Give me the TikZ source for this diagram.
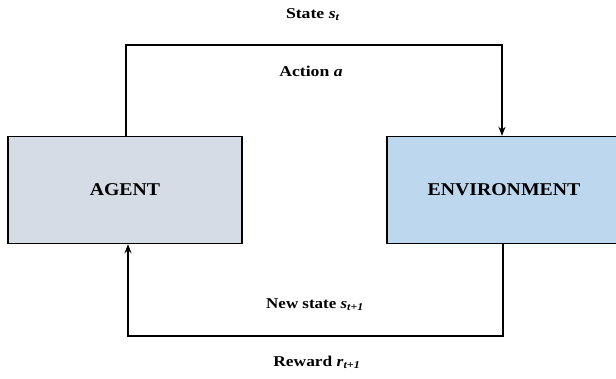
\documentclass[tikz,border=0pt]{standalone}
\usepackage{fontspec}
\setmainfont{Liberation Serif}
\usetikzlibrary{arrows.meta}
\definecolor{agentfill}{HTML}{D6DCE5}
\definecolor{envfill}{HTML}{BDD7EE}
\tikzset{
  blockbox/.style={draw=black, line width=1.4pt, minimum width=234pt, minimum height=107pt, inner sep=0pt,
    font=\fontsize{18}{21}\selectfont\bfseries},
  flow/.style={line width=1.3pt, -{Stealth[length=9pt,width=7pt]}},
  lbl/.style={font=\fontsize{15}{18}\selectfont\bfseries, inner sep=0pt}
}
\newcommand{\wide}[2][1.18]{\scalebox{#1}[1]{#2}}
\begin{document}
\begin{tikzpicture}[x=1pt,y=-1pt]
  \useasboundingbox (0,0) rectangle (616,378);
  \node[blockbox, fill=agentfill] (agent) at (125,190) {\wide[1.1]{AGENT}};
  \node[blockbox, fill=envfill] (env) at (504,190) {\wide[1.1]{ENVIRONMENT}};
  \coordinate (tl) at (126,45);
  \coordinate (tr) at (502,45);
  \coordinate (bl) at (128,336);
  \coordinate (br) at (503,336);
  \draw[flow] (agent.north -| tl) -- (tl) -- (tr) -- (env.north -| tr);
  \draw[flow] (env.south -| br) -- (br) -- (bl) -- (agent.south -| bl);
  \node[lbl] (state) at (313,15) {\wide{State \textit{s}\textsubscript{\textit{t}}}};
  \node[lbl] (action) at (311,71) {\wide{Action \textit{a}}};
  \node[lbl] (newstate) at (315,305) {\wide[1.13]{New state \textit{s}\textsubscript{\textit{t+1}}}};
  \node[lbl] (reward) at (317,362) {\wide[1.16]{Reward \textit{r}\textsubscript{\textit{t+1}}}};
\end{tikzpicture}
\end{document}
